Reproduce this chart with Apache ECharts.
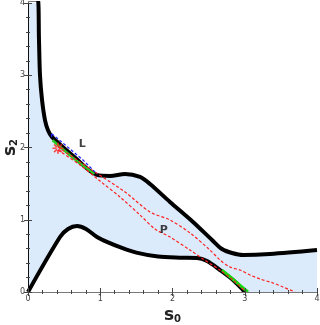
<!DOCTYPE html>
<html>
<head>
<meta charset="utf-8">
<script src="https://cdn.jsdelivr.net/npm/echarts@6/dist/echarts.min.js"></script>
<style>
    html, body {margin: 0; padding: 0; background: #fff;}
    #chart {width: 320px; height: 325px;}
</style>
</head>
<body>
<div id="chart"></div>
<script>
// curves, [s0, s2]
const upperCurve = [
    [0, 4.05], [0.135, 4.05], [0.152, 3.49], [0.166, 3.0], [0.194, 2.66], [0.235, 2.38],
    [0.277, 2.24], [0.332, 2.145], [0.65, 1.86], [0.955, 1.62], [1.135, 1.606],
    [1.343, 1.633], [1.55, 1.592], [1.689, 1.495], [1.965, 1.246], [2.284, 0.969],
    [2.547, 0.72], [2.685, 0.595], [2.824, 0.54], [2.976, 0.512], [3.349, 0.526], [4.0, 0.581],
];
const lowerCurve = [
    [0, 0], [0.443, 0.761], [0.554, 0.872], [0.678, 0.913], [0.803, 0.872], [0.955, 0.761],
    [1.1, 0.69], [1.3, 0.61], [1.5, 0.545], [1.8, 0.49], [2.1, 0.475], [2.339, 0.471],
    [2.478, 0.429], [2.657, 0.304], [2.837, 0.166], [2.976, 0.028], [3.0, 0],
];
const redUpper = [
    [0.415, 2.007], [0.927, 1.661], [1.343, 1.384], [1.689, 1.107], [1.965, 0.997],
    [2.242, 0.817], [2.519, 0.581], [2.657, 0.443], [2.796, 0.346], [2.934, 0.304],
    [3.073, 0.235], [3.211, 0.18], [3.391, 0.125], [3.529, 0.069], [3.696, 0],
];
const redLower = [
    [0.415, 1.965], [0.72, 1.758], [0.997, 1.536], [1.273, 1.315], [1.55, 1.066],
    [1.758, 0.872], [1.965, 0.761], [2.242, 0.581], [2.422, 0.457], [2.657, 0.304],
    [2.837, 0.166], [3.017, 0],
];
const greenTop = [[0.34, 2.1], [0.65, 1.835], [0.92, 1.635]];
const greenBottom = [[2.685, 0.304], [2.865, 0.152], [3.045, 0]];
const blueLens = [[0.33, 2.145], [0.32, 2.2], [0.761, 1.827], [0.955, 1.633]];
const starPoint = [[0.415, 1.99]];
const labelPoints = [[0.75, 2.05, 'L'], [1.88, 0.86, 'P']];
const tickValues = [0, 1, 2, 3, 4];

const asterisk = 'path://M-0.15,-1L0.15,-1L0.15,1L-0.15,1Z M-1,-0.15L1,-0.15L1,0.15L-1,0.15Z ' +
    'M0.601,0.813L0.813,0.601L-0.601,-0.813L-0.813,-0.601Z M0.813,-0.601L0.601,-0.813L-0.813,0.601L-0.601,0.813Z';

const chart = echarts.init(document.getElementById('chart'), null, {renderer: 'canvas'});

const axisCommon = {
    type: 'value',
    min: 0,
    max: 4,
    interval: 1,
    z: 10,
    splitLine: {show: false},
    axisTick: {inside: true, length: 4, lineStyle: {color: '#444'}},
    minorTick: {show: true, splitNumber: 5, length: 2, lineStyle: {color: '#444'}},
};
const labelStyle = {
    fontFamily: 'DejaVu Sans',
    fontSize: 8,
    color: '#444',
    formatter: v => tickValues.includes(v) ? String(v) : '',
};
const nameRich = {
    a: {fontFamily: 'DejaVu Sans', fontSize: 17, fontWeight: 'bold', color: '#222', lineHeight: 20, verticalAlign: 'bottom'},
    b: {fontFamily: 'DejaVu Sans', fontSize: 10, fontWeight: 'bold', color: '#222', lineHeight: 11, verticalAlign: 'bottom'},
};

function curve(data, color, width, extra) {
    return {
        type: 'line',
        data,
        smooth: 0.3,
        showSymbol: false,
        symbol: 'none',
        animation: false,
        silent: true,
        lineStyle: {color, width, ...(extra || {})},
    };
}

chart.setOption({
    animation: false,
    grid: {left: 28, right: 3, top: 3, bottom: 33, containLabel: false, outerBoundsMode: 'none'},
    xAxis: [{
        ...axisCommon,
        position: 'bottom',
        axisLine: {lineStyle: {color: '#333', width: 1}},
        axisLabel: {...labelStyle, margin: 3},
        name: '{a|s}{b|0}',
        nameLocation: 'middle',
        nameGap: 12,
        nameMoveOverlap: false,
        nameTextStyle: {rich: nameRich},
    }, {
        ...axisCommon,
        position: 'top',
        axisLine: {lineStyle: {color: '#777', width: 1}},
        axisLabel: {show: false},
    }],
    yAxis: [{
        ...axisCommon,
        position: 'left',
        axisLine: {lineStyle: {color: '#333', width: 1}},
        axisLabel: {...labelStyle, margin: 3},
        name: '{a|s}{b|2}',
        nameLocation: 'middle',
        nameGap: 9,
        nameMoveOverlap: false,
        nameRotate: 90,
        nameTextStyle: {rich: nameRich},
    }, {
        ...axisCommon,
        position: 'right',
        axisLine: {lineStyle: {color: '#111', width: 1}},
        axisLabel: {show: false},
    }],
    series: [
        // shaded region: blue under the upper curve, white under the lower one
        {...curve(upperCurve, '#dcebfb', 0), areaStyle: {color: '#dcebfb', opacity: 1}, z: 1},
        {...curve(lowerCurve, '#fff', 0), areaStyle: {color: '#fff', opacity: 1}, z: 1},
        {...curve(upperCurve, '#000', 4), z: 3},
        {...curve(lowerCurve, '#000', 4), z: 3},
        {...curve(greenTop, '#22cc22', 2.4), z: 4},
        {...curve(greenBottom, '#11dd11', 3), z: 4},
        {...curve(redUpper, '#ff2020', 1.2, {type: [3, 2]}), z: 5},
        {...curve(redLower, '#ff2020', 1.2, {type: [3, 2]}), z: 5},
        {...curve(blueLens, '#2020ff', 1.2, {type: [3, 2]}), smooth: false, z: 5},
        {
            type: 'scatter',
            data: starPoint,
            symbol: asterisk,
            symbolSize: 11,
            itemStyle: {color: '#ff2020'},
            z: 6,
            silent: true,
        },
        {
            type: 'scatter',
            data: labelPoints,
            symbolSize: 0,
            z: 6,
            silent: true,
            label: {
                show: true,
                position: 'inside',
                formatter: p => p.data[2],
                fontFamily: 'DejaVu Sans',
                fontSize: 11,
                fontWeight: 'bold',
                color: '#111',
            },
        },
    ],
});
</script>
</body>
</html>
